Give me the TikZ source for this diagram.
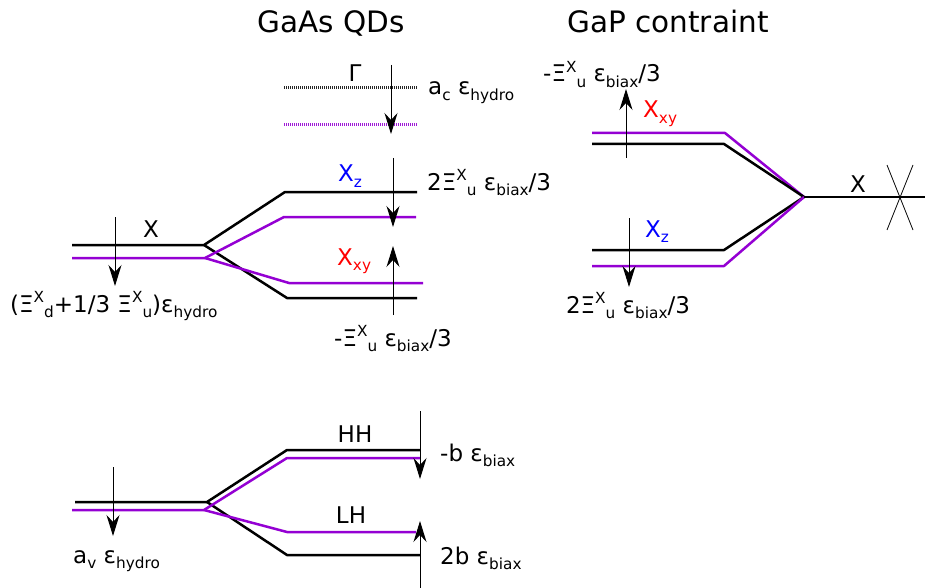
\documentclass[tikz,border=0pt]{standalone}
\usepackage{fontspec}
\setmainfont{DejaVu Sans}
\usetikzlibrary{arrows.meta}
\definecolor{purp}{RGB}{148,0,211}
\definecolor{xblue}{RGB}{0,0,255}
\definecolor{xred}{RGB}{255,0,0}
\newcommand{\lsup}[1]{\raisebox{0.42em}{\fontsize{15.3}{15.3}\selectfont #1}}
\newcommand{\lsub}[1]{\raisebox{-0.22em}{\fontsize{15.3}{15.3}\selectfont #1}}
\begin{document}
\begin{tikzpicture}[x=1pt,y=-1pt,
  level/.style={line width=2.5pt, line join=round},
  plevel/.style={level, purp},
  dotlev/.style={line width=3pt, dash pattern=on 1pt off 1pt},
  arr/.style={line width=1pt, -{Stealth[length=21pt,width=13pt,inset=7pt]}},
  thin/.style={line width=0.8pt},
  lab/.style={font=\fontsize{23}{27}\selectfont, inner sep=0pt},
  ttl/.style={font=\fontsize{29.5}{34}\selectfont, inner sep=0pt}]
\useasboundingbox (0,0) rectangle (925,588);

% titles
\node[ttl, anchor=base] (t1) at (331,33) {GaAs QDs};
\node[ttl, anchor=base] (t2) at (668,33) {GaP contraint};

% Gamma
\draw[dotlev, black!85] (284,88) -- (417,88);
\draw[dotlev, purp!90] (284,125) -- (417,125);
\node[lab, anchor=base] (gam) at (355,82) {Γ};
\coordinate (ga1) at (391,65);
\coordinate (ga2) at (391,134);
\draw[arr] (ga1) -- (ga2);
\node[lab, anchor=base west] (acl) at (428,95) {a\lsub{c} ε\lsub{hydro}};

% GaAs X band
\draw[level] (72,245) -- (204,245) -- (285,192) -- (417,192);
\draw[level] (204,245) -- (287,298) -- (417,298);
\draw[plevel] (72,258) -- (205,258) -- (284,217) -- (416,217);
\draw[plevel] (205,258) -- (289,283) -- (423,283);
\node[lab, anchor=base] (xl) at (151,237) {X};
\coordinate (xa1) at (115,217);
\coordinate (xa2) at (115,286);
\draw[arr] (xa1) -- (xa2);
\node[lab, anchor=base west] (xhl) at (10,312) {(Ξ\lsup{X}\lsub{d}+1/3 Ξ\lsup{X}\lsub{u})ε\lsub{hydro}};
\node[lab, anchor=base west, text=xblue] (xz1) at (338,182) {X\lsub{z}};
\node[lab, anchor=base west, text=xred] (xxy1) at (337,265) {X\lsub{xy}};
\coordinate (b1a) at (393,158);
\coordinate (b1b) at (393,227);
\draw[arr] (b1a) -- (b1b);
\coordinate (b2a) at (393,315);
\coordinate (b2b) at (393,246);
\draw[arr] (b2a) -- (b2b);
\node[lab, anchor=base west] (l2x) at (427,190) {2Ξ\lsup{X}\lsub{u} ε\lsub{biax}/3};
\node[lab, anchor=base] (lmx) at (393,346) {-Ξ\lsup{X}\lsub{u} ε\lsub{biax}/3};

% GaP
\draw[plevel] (592,133) -- (725,133) -- (804,197);
\draw[level] (592,144) -- (724,144) -- (804,197);
\draw[level] (592,250) -- (724,250) -- (804,197);
\draw[plevel] (592,266) -- (724,266) -- (804,197);
\draw[level] (804,197) -- (925,197);
\node[lab, anchor=base] (xg) at (858,193) {X};
\draw[thin] (887,165) -- (913,230);
\draw[thin] (913,165) -- (887,230);
\coordinate (c1a) at (626,158);
\coordinate (c1b) at (626,89);
\draw[arr] (c1a) -- (c1b);
\coordinate (c2a) at (629,218);
\coordinate (c2b) at (629,287);
\draw[arr] (c2a) -- (c2b);
\node[lab, anchor=base west] (lmg) at (543,82) {-Ξ\lsup{X}\lsub{u} ε\lsub{biax}/3};
\node[lab, anchor=base west, text=xred] (xxy2) at (643,118) {X\lsub{xy}};
\node[lab, anchor=base west, text=xblue] (xz2) at (645,237) {X\lsub{z}};
\node[lab, anchor=base] (l2g) at (628,313) {2Ξ\lsup{X}\lsub{u} ε\lsub{biax}/3};

% valence band
\draw[level] (75,502) -- (207,502) -- (287,450) -- (420,450);
\draw[level] (207,502) -- (287,555) -- (420,555);
\draw[plevel] (72,510) -- (204,510) -- (287,458) -- (420,458);
\draw[plevel] (204,510) -- (287,532) -- (416,532);
\coordinate (va1) at (113,467);
\coordinate (va2) at (113,536);
\draw[arr] (va1) -- (va2);
\node[lab, anchor=base west] (avl) at (73,563) {a\lsub{v} ε\lsub{hydro}};
\node[lab, anchor=base] (hh) at (355,442) {HH};
\node[lab, anchor=base] (lh) at (351,523) {LH};
\coordinate (h1a) at (420,411);
\coordinate (h1b) at (420,479);
\draw[arr] (h1a) -- (h1b);
\coordinate (h2a) at (420,588);
\coordinate (h2b) at (420,521);
\draw[arr] (h2a) -- (h2b);
\node[lab, anchor=base west] (bl1) at (440,461) {-b ε\lsub{biax}};
\node[lab, anchor=base west] (bl2) at (440,564) {2b ε\lsub{biax}};
\end{tikzpicture}
\end{document}
